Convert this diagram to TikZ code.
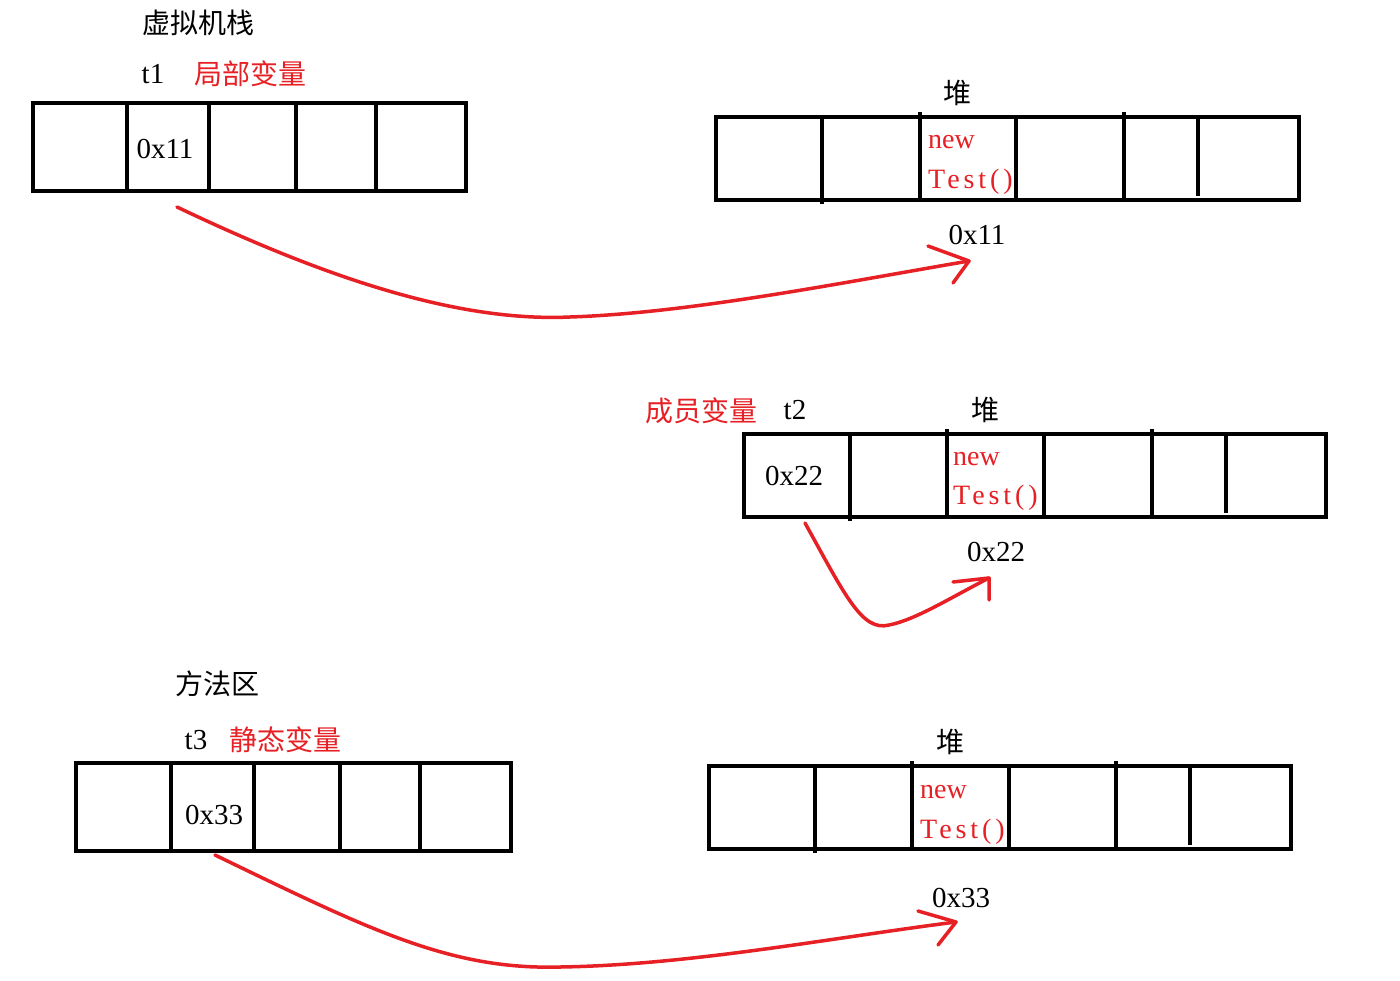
\documentclass[tikz,border=0pt]{standalone}
\usepackage{fontspec}
\setmainfont{Liberation Serif}
\newfontfamily\cjk{Noto Sans CJK SC}
\newfontfamily\spaced{Liberation Serif}[LetterSpace=14]
\definecolor{pen}{RGB}{230,32,36}
\begin{document}
\begin{tikzpicture}[x=1pt,y=-1pt,
  box/.style={line width=4pt,draw=black},
  wire/.style={line width=3.5pt,draw=pen,line cap=round,line join=round},
  lat/.style={inner sep=0pt,anchor=base,font=\fontsize{29}{29}\selectfont},
  hz/.style={inner sep=0pt,anchor=base,font=\cjk\fontsize{28}{28}\selectfont},
  code/.style={inner sep=0pt,anchor=base west,text=pen,font=\fontsize{28}{28}\selectfont},
  codesp/.style={inner sep=0pt,anchor=base west,text=pen,font=\spaced\fontsize{28}{28}\selectfont}]
\fill[white] (0,0) rectangle (1400,980);
\useasboundingbox (0,0) rectangle (1400,980);

% ---------- stack (top-left) ----------
\draw[box] (33,103) rectangle (466,191);
\foreach \x in {127,209,296,376} \draw[box] (\x,103) -- (\x,191);
\node[hz] (vmstack) at (198,33) {虚拟机栈};
\node[lat] (t1) at (153,83) {t1};
\node[hz,text=pen] (local) at (250,84) {局部变量};
\node[lat] (v11) at (165,158) {0x11};

% ---------- heap 1 ----------
\draw[box] (716,117) rectangle (1299,200);
\draw[box] (822,117) -- (822,204);
\draw[box] (920,112) -- (920,200);
\draw[box] (1016,117) -- (1016,200);
\draw[box] (1124,112) -- (1124,200);
\draw[box] (1198,117) -- (1198,196);
\node[hz] (heap1) at (957,103) {堆};
\node[code] (new1) at (928,148) {new};
\node[codesp] (test1) at (928,188) {Test()};
\node[lat] (addr1) at (977,244) {0x11};

% ---------- heap 2 (member variable) ----------
\draw[box] (744,434) rectangle (1326,517);
\draw[box] (850,434) -- (850,521);
\draw[box] (947,429) -- (947,517);
\draw[box] (1044,434) -- (1044,517);
\draw[box] (1152,429) -- (1152,517);
\draw[box] (1226,434) -- (1226,513);
\node[hz,text=pen] (member) at (701,421) {成员变量};
\node[lat] (t2) at (795,419) {t2};
\node[hz] (heap2) at (985,420) {堆};
\node[lat] (v22) at (794,485) {0x22};
\node[code] (new2) at (953,465) {new};
\node[codesp] (test2) at (953,504) {Test()};
\node[lat] (addr2) at (996,561) {0x22};

% ---------- method area (bottom-left) ----------
\draw[box] (76,763) rectangle (511,851);
\foreach \x in {171,254,340,420} \draw[box] (\x,763) -- (\x,851);
\node[hz] (method) at (217,694) {方法区};
\node[lat] (t3) at (196,749) {t3};
\node[hz,text=pen] (static) at (285,750) {静态变量};
\node[lat] (v33) at (214,824) {0x33};

% ---------- heap 3 ----------
\draw[box] (709,766) rectangle (1291,849);
\draw[box] (815,766) -- (815,853);
\draw[box] (912,761) -- (912,849);
\draw[box] (1009,766) -- (1009,849);
\draw[box] (1116,761) -- (1116,849);
\draw[box] (1190,766) -- (1190,845);
\node[hz] (heap3) at (950,752) {堆};
\node[code] (new3) at (920,798) {new};
\node[codesp] (test3) at (920,838) {Test()};
\node[lat] (addr3) at (961,907) {0x33};

% ---------- red arrows ----------
\coordinate (a1s) at (177,207);
\coordinate (a1m) at (570,317);
\coordinate (a1t) at (969,261);
\draw[wire] (a1s) .. controls (330,280) and (460,322) .. (a1m)
               .. controls (690,313) and (840,283) .. (a1t);
\draw[wire] (a1t) ++(-41,-15) -- (a1t) -- ++(-16,22);

\coordinate (a2s) at (805,523);
\coordinate (a2m) at (889,625);
\coordinate (a2t) at (989,578);
\draw[wire] (a2s) .. controls (845,595) and (862,632) .. (a2m)
               .. controls (915,620) and (950,598) .. (a2t);
\draw[wire] (a2t) ++(-36,4) -- (a2t) -- ++(0,22);

\coordinate (a3s) at (215,855);
\coordinate (a3m) at (560,967);
\coordinate (a3t) at (956,922);
\draw[wire] (a3s) .. controls (370,930) and (450,970) .. (a3m)
               .. controls (690,965) and (830,938) .. (a3t);
\draw[wire] (a3t) ++(-38,-11) -- (a3t) -- ++(-18,23);
\end{tikzpicture}
\end{document}
